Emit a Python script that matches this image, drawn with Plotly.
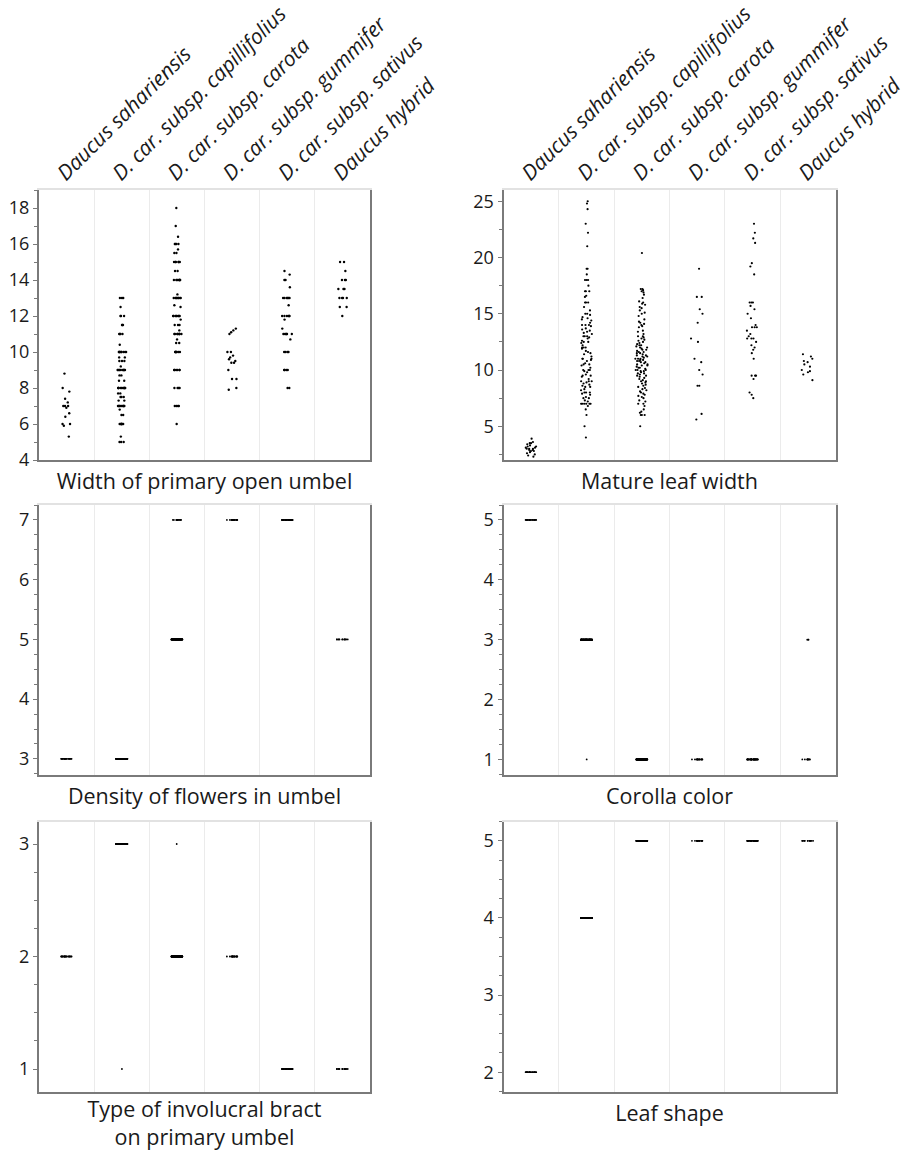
import plotly.graph_objects as go

species = ["Daucus sahariensis", "D. car. subsp. capillifolius", "D. car. subsp. carota",
           "D. car. subsp. gummifer", "D. car. subsp. sativus", "Daucus hybrid"]

# Panel 1: Width of primary open umbel
w_sah = [8.8, 8.0, 7.8, 7.4, 7.2, 7.0, 7.0, 7.0, 6.9, 6.6, 6.4, 6.0, 6.0, 5.9, 5.3]
w_cap = [13.0, 13.0, 13.0, 12.5, 12.0, 12.0, 12.0, 11.5, 11.5, 11.5, 11.0, 11.0, 11.0, 11.0,
         10.4, 10.0, 10.0, 10.0, 10.0, 10.0, 10.0, 10.0, 10.0, 10.0, 9.7, 9.7, 9.5, 9.5, 9.5,
         9.2, 9.0, 9.0, 9.0, 9.0, 9.0, 9.0, 9.0, 9.0, 9.0, 8.7, 8.7, 8.4, 8.4,
         8.0, 8.0, 8.0, 8.0, 8.0, 8.0, 8.0, 8.0, 8.0, 8.0, 7.7, 7.7, 7.5, 7.5, 7.5, 7.3, 7.3,
         7.0, 7.0, 7.0, 7.0, 7.0, 7.0, 7.0, 7.0, 7.0, 6.8, 6.5, 6.5,
         6.0, 6.0, 6.0, 6.0, 6.0, 6.0, 6.0, 5.3, 5.0, 5.0, 5.0]
w_car = [18.0, 17.0, 16.4, 16.0, 16.0, 16.0, 16.0, 15.7, 15.5, 15.5,
         15.0, 15.0, 15.0, 15.0, 15.0, 15.0, 14.5, 14.5,
         14.0, 14.0, 14.0, 14.0, 14.0, 14.0, 14.0, 14.0, 13.2,
         13.0, 13.0, 13.0, 13.0, 13.0, 13.0, 13.0, 13.0, 12.6, 12.5,
         12.0, 12.0, 12.0, 12.0, 12.0, 12.0, 12.0, 12.0, 11.8, 11.5, 11.5, 11.5, 11.2,
         11.0, 11.0, 11.0, 11.0, 11.0, 11.0, 11.0, 11.0, 10.7, 10.5, 10.5,
         10.0, 10.0, 10.0, 10.0, 10.0, 10.0, 10.0, 9.0, 9.0, 9.0, 9.0, 9.0, 9.0,
         8.0, 8.0, 8.0, 8.0, 7.0, 7.0, 7.0, 7.0, 6.0]
w_gum = [11.3, 11.2, 11.1, 11.0, 10.0, 10.0, 9.8, 9.7, 9.6, 9.5, 9.4, 9.4, 9.0, 8.5, 8.5, 8.0, 7.9]
w_sat = [14.5, 14.3, 14.0, 14.0, 13.6, 13.0, 13.0, 13.0, 13.0, 13.0, 13.0, 12.6,
         12.0, 12.0, 12.0, 12.0, 12.0, 12.0, 11.8, 11.3, 11.0, 11.0, 11.0, 11.0, 11.0, 11.0,
         10.7, 10.0, 10.0, 10.0, 10.0, 9.0, 9.0, 9.0, 9.0, 8.0, 8.0]
w_hyb = [15.0, 15.0, 14.5, 14.0, 14.0, 14.0, 13.5, 13.5, 13.5, 13.0, 13.0, 13.0, 13.0,
         12.5, 12.5, 12.0]

# Panel 2: Mature leaf width
lw_sah = [3.9, 3.6, 3.5, 3.5, 3.4, 3.3, 3.2, 3.2, 3.1, 3.1, 3.0, 3.0, 3.0, 2.9, 2.9,
          2.8, 2.8, 2.7, 2.6, 2.5, 2.4, 2.3]
lw_cap = [25.0, 24.8, 24.3, 23.0, 22.2, 21.0, 19.0, 19.0, 18.5, 18.0, 18.0, 18.0, 17.5,
          17.0, 17.0, 17.0, 16.6, 16.5, 16.0, 16.0, 16.0, 15.6, 15.3, 15.0, 15.0, 14.9,
          14.7, 14.6, 14.5, 14.4, 14.2, 14.0, 14.0, 14.0, 13.9, 13.7, 13.6, 13.5, 13.4, 13.3,
          13.2, 13.0, 13.0, 13.0, 12.9, 12.8, 12.6, 12.5, 12.5, 12.4, 12.2, 12.0, 12.0, 12.0,
          11.9, 11.7, 11.6, 11.5, 11.4, 11.2, 11.0, 11.0, 11.0, 10.9, 10.8, 10.6, 10.5, 10.5,
          10.4, 10.2, 10.0, 10.0, 10.0, 9.9, 9.8, 9.6, 9.5, 9.5, 9.4, 9.2, 9.0, 9.0, 9.0,
          8.9, 8.8, 8.7, 8.6, 8.5, 8.5, 8.3, 8.2, 8.0, 8.0, 8.0, 7.9, 7.8, 7.6, 7.5, 7.5,
          7.3, 7.2, 7.0, 7.0, 7.0, 7.0, 7.0, 7.0, 6.8, 6.5, 6.0, 5.0, 4.0]
lw_car = [20.4, 17.2, 17.2, 17.1, 17.0, 16.9, 16.7, 16.4, 16.1, 16.0, 15.9, 15.8, 15.6, 15.5,
          15.3, 15.1, 15.0, 14.8, 14.5, 14.3, 14.2, 14.1, 14.0, 13.9, 13.8, 13.5, 13.4, 13.2,
          13.0, 13.0, 12.9, 12.8, 12.7, 12.6, 12.5, 12.4, 12.3, 12.2, 12.2, 12.1, 12.0, 12.0,
          11.9, 11.8, 11.8, 11.7, 11.6, 11.6, 11.5, 11.5, 11.4, 11.3, 11.3, 11.2, 11.2, 11.1,
          11.0, 11.0, 11.0, 10.9, 10.9, 10.8, 10.8, 10.7, 10.7, 10.6, 10.5, 10.5, 10.4, 10.4,
          10.3, 10.2, 10.2, 10.1, 10.0, 10.0, 10.0, 9.9, 9.9, 9.8, 9.7, 9.7, 9.6, 9.5, 9.5,
          9.4, 9.3, 9.2, 9.1, 9.0, 9.0, 8.9, 8.8, 8.7, 8.6, 8.5, 8.4, 8.3, 8.2, 8.1, 8.0,
          7.9, 7.8, 7.7, 7.6, 7.5, 7.3, 7.2, 7.0, 7.0, 6.8, 6.5, 6.3, 6.2, 6.0, 6.0, 6.0, 5.0]
lw_gum = [19.0, 16.5, 16.5, 15.4, 15.0, 14.2, 12.8, 12.5, 11.0, 10.7, 10.0, 9.6, 8.6, 8.6, 6.1, 5.6]
lw_sat = [23.0, 22.2, 21.7, 21.3, 19.5, 19.2, 18.5, 16.0, 16.0, 16.0, 15.7, 15.4, 15.0, 14.6,
          14.0, 13.8, 13.8, 13.8, 13.5, 13.2, 13.0, 12.8, 12.8, 12.8, 12.5, 12.2, 12.0, 11.8,
          11.5, 11.0, 9.5, 9.5, 9.5, 9.2, 8.0, 7.8, 7.5]
lw_hyb = [11.4, 11.2, 11.0, 10.8, 10.7, 10.5, 10.3, 10.0, 9.9, 9.8, 9.6, 9.1]

# Scored traits: levels observed per group and number of plants at each level
density_levels = [[3], [3], [7, 5], [7], [7], [5]]
density_counts = [[20], [110], [14, 106], [17], [40], [13]]
corolla_levels = [[5], [3, 1], [1], [1], [1], [3, 1]]
corolla_counts = [[20], [109, 1], [120], [17], [40], [3, 10]]
bract_levels = [[2], [3, 1], [3, 2], [2], [1], [1]]
bract_counts = [[20], [109, 1], [1, 119], [17], [40], [13]]
shape_levels = [[2], [4], [5], [5], [5], [5]]
shape_counts = [[20], [110], [120], [17], [40], [13]]

titles = ["Width of primary open umbel", "Mature leaf width", "Density of flowers in umbel",
          "Corolla color", "Type of involucral bract<br>on primary umbel", "Leaf shape"]


def expand(levels, counts):
    out = []
    for lv, ct in zip(levels, counts):
        g = []
        for v, c in zip(lv, ct):
            g += [v] * c
        out.append(g)
    return out


panels = [
    [w_sah, w_cap, w_car, w_gum, w_sat, w_hyb],
    [lw_sah, lw_cap, lw_car, lw_gum, lw_sat, lw_hyb],
    expand(density_levels, density_counts),
    expand(corolla_levels, corolla_counts),
    expand(bract_levels, bract_counts),
    expand(shape_levels, shape_counts),
]

yranges = [[4, 19], [2, 26], [2.73, 7.25], [0.74, 5.25], [0.8, 3.2], [1.75, 5.25]]
dticks = [2, 5, 1, 1, 1, 1]
minor_dticks = [1, 2.5, 0.25, 0.25, 0.25, 0.25]
jitters = [0.42, 0.5, 0.42, 0.42, 0.42, 0.42]
msizes = [2.4, 2.2, 1.8, 1.8, 1.8, 1.8]

H = 1151.0
W = 917.0
xdoms = [[39 / W, 370 / W], [503.5 / W, 835.5 / W]]
ydoms = [[1 - 460 / H, 1 - 190 / H], [1 - 775 / H, 1 - 505 / H], [1 - 1091.5 / H, 1 - 821.5 / H]]

FONT = "Open Sans"
DARK = "#7a7a7a"
TXT = "#1a1a1a"

fig = go.Figure()
for i, groups in enumerate(panels):
    xs, ys = [], []
    for name, vals in zip(species, groups):
        xs += [name] * len(vals)
        ys += list(vals)
    sfx = "" if i == 0 else str(i + 1)
    fig.add_trace(go.Box(
        x=xs, y=ys, xaxis="x" + sfx, yaxis="y" + sfx,
        boxpoints="all", jitter=jitters[i], pointpos=0,
        fillcolor="rgba(0,0,0,0)", line=dict(color="rgba(0,0,0,0)", width=0),
        marker=dict(color="black", size=msizes[i]),
        showlegend=False, hoverinfo="y",
    ))

# helper traces (no visible marks) so the top label axes are created
for i in range(6):
    sfx = "" if i == 0 else str(i + 1)
    fig.add_trace(go.Scatter(
        x=list(range(len(species))), y=[None] * len(species),
        xaxis="x" + str(i + 7), yaxis="y" + sfx, mode="markers",
        marker=dict(opacity=0), showlegend=False, hoverinfo="skip",
    ))

layout = dict(
    width=917, height=1151,
    margin=dict(l=0, r=0, t=0, b=0),
    paper_bgcolor="white", plot_bgcolor="white",
    font=dict(family=FONT, color=TXT),
    showlegend=False,
)

for i in range(6):
    row, col = i // 2, i % 2
    n = i + 1
    sfx = "" if n == 1 else str(n)
    layout["xaxis" + sfx] = dict(
        domain=xdoms[col], anchor="y" + sfx, type="category",
        categoryorder="array", categoryarray=species, range=[-0.5, 5.5],
        showgrid=True, gridcolor="#ebebeb", gridwidth=1, tickson="boundaries",
        ticks="", showticklabels=False,
        showline=True, linecolor=DARK, linewidth=2, zeroline=False,
        title=dict(text=titles[i], font=dict(size=21.5, color=TXT), standoff=13),
        automargin=False,
    )
    layout["yaxis" + sfx] = dict(
        domain=ydoms[row], anchor="x" + sfx, range=yranges[i],
        tick0=0, dtick=dticks[i], showgrid=False, zeroline=False,
        showline=True, linecolor=DARK, linewidth=2, mirror=True,
        ticks="outside", ticklen=4, tickwidth=1, tickcolor=DARK,
        tickfont=dict(size=18, color=TXT),
        minor=dict(dtick=minor_dticks[i], tick0=0, ticks="outside", ticklen=3,
                   tickwidth=1, tickcolor=DARK, showgrid=False),
        automargin=False,
    )
    top = "xaxis" + str(n + 6)
    layout[top] = dict(
        overlaying="x" + sfx, anchor="y" + sfx, side="top", type="linear",
        range=[-0.5, 5.5], tickmode="array", tickvals=list(range(6)), ticktext=species,
        showticklabels=(row == 0), tickangle=-45,
        tickfont=dict(size=21, color=TXT, style="italic"),
        ticklabelshift=-8, ticklabelstandoff=-5,
        ticks="", showgrid=False, zeroline=False,
        showline=True, linecolor="#e2e2e2", linewidth=1.5, automargin=False,
    )

fig.update_layout(**layout)
fig.write_html("out.html")
